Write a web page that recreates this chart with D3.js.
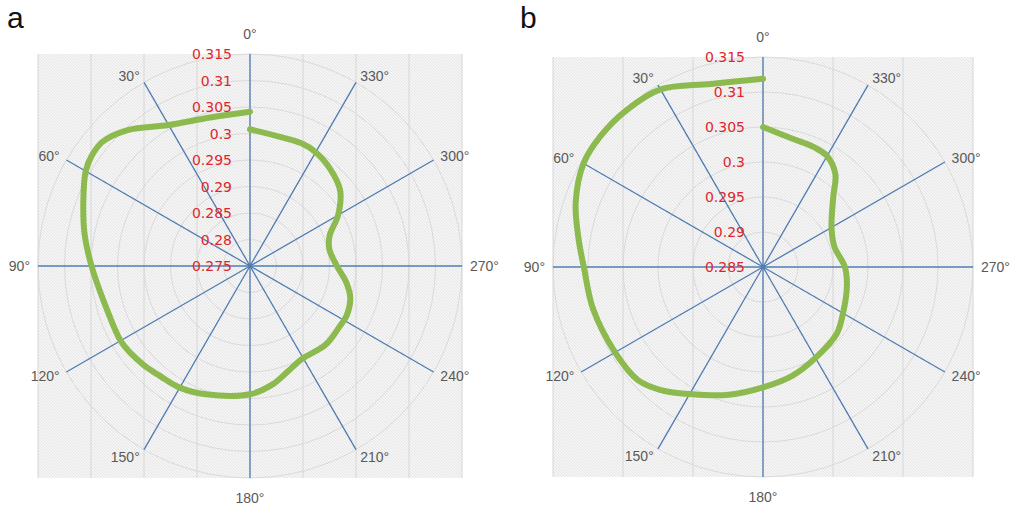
<!DOCTYPE html>
<html><head><meta charset="utf-8">
<script src="https://cdn.jsdelivr.net/npm/d3@7"></script>
<style>body{margin:0;background:#fff}svg{display:block}</style>
</head><body>
<svg id="chart" width="1022" height="508"></svg>
<script>
// ---- data ----
const angleLabels = ["0°","30°","60°","90°","120°","150°","180°","210°","240°","270°","300°","330°"];
const spokeAngles = [0,30,60,90,120,150,180,210,240,270,300,330];

const ticksA = [0.275,0.28,0.285,0.29,0.295,0.3,0.305,0.31,0.315];
const ticksB = [0.285,0.29,0.295,0.3,0.305,0.31,0.315];

const anglesA = [0,15,30,42,50,55,60,68,79,90,105,120,126,133,141,150,161,180,191,200,209,224,236,243,252,260,270,282,291,300,310,320,330,337,346,360];
const valuesA = [0.3041,0.3040,0.3057,0.3095,0.3114,0.3114,0.3108,0.3089,0.3068,0.3049,0.3033,0.3032,0.3029,0.3024,0.3018,0.3015,0.3006,0.2992,0.2977,0.2961,0.2951,0.2956,0.2954,0.2955,0.2949,0.2935,0.2914,0.2903,0.2911,0.2942,0.2972,0.2987,0.2998,0.3001,0.3000,0.3008];

const anglesB = [0,16,30,41,51,60,71,81,90,104,120,132,140,151,165,180,195,210,228,240,257,270,286,300,315,322,330,337,347,360];
const valuesB = [0.3119,0.3122,0.3143,0.3147,0.3148,0.3146,0.3133,0.3117,0.3106,0.3100,0.3094,0.3091,0.3079,0.3058,0.3039,0.3022,0.3011,0.3000,0.2992,0.2982,0.2973,0.2967,0.2956,0.2963,0.2992,0.3018,0.3033,0.3036,0.3038,0.3050];

const svg = d3.select("#chart");
const defs = svg.append("defs");
const pat = defs.append("pattern").attr("id","hatch").attr("patternUnits","userSpaceOnUse")
  .attr("width",3).attr("height",3);
pat.append("rect").attr("width",3).attr("height",3).attr("fill","#f5f5f5");
pat.append("path").attr("d","M0,0 L3,3 M-1,2 L1,4 M2,-1 L4,1").attr("stroke","#e1e1e1").attr("stroke-width",0.8);

const fmt = d3.format("~g");

function panel(opts){
  const {cx, cy, R, ticks, angles, values, letter, lx} = opts;
  const g = svg.append("g").attr("transform",`translate(${cx},${cy})`);
  const r = d3.scaleLinear().domain([ticks[0], ticks[ticks.length-1]]).range([0, R]);
  const step = r(ticks[2]) - r(ticks[0]);

  // background square
  g.append("rect").attr("x",-R).attr("y",-R).attr("width",2*R).attr("height",2*R).attr("fill","url(#hatch)");
  // vertical grid lines
  const nv = Math.round(R/step);
  const vx = d3.range(-nv, nv+1).map(i=>i*step);
  g.selectAll(".vg").data(vx).join("line")
    .attr("x1",d=>d).attr("x2",d=>d).attr("y1",-R).attr("y2",R)
    .attr("stroke","#d6d6d6").attr("stroke-width",1);
  // rings
  g.selectAll(".ring").data(ticks.slice(1)).join("circle")
    .attr("r",d=>r(d)).attr("fill","none").attr("stroke","#dadada").attr("stroke-width",1);
  // spokes
  g.selectAll(".spoke").data(spokeAngles).join("line")
    .attr("x1",0).attr("y1",0)
    .attr("x2",d=>-R*Math.sin(d*Math.PI/180))
    .attr("y2",d=>-R*Math.cos(d*Math.PI/180))
    .attr("stroke","#4f7cb3").attr("stroke-width",1.3);
  g.append("circle").attr("r",2.2).attr("fill","#4f7cb3");

  // curve
  const line = d3.lineRadial()
    .angle(d=>-d[0]*Math.PI/180)
    .radius(d=>r(d[1]))
    .curve(d3.curveCatmullRom.alpha(0.5));
  g.append("path").datum(angles.map((a,i)=>[a, values[i]]))
    .attr("d",line).attr("fill","none").attr("stroke","#8dba4f")
    .attr("stroke-width",6).attr("stroke-linecap","round").attr("stroke-linejoin","round");

  // radial labels
  g.selectAll(".rl").data(ticks).join("text")
    .attr("x",-18).attr("y",d=>-r(d)).attr("dy","0.36em")
    .attr("text-anchor","end").attr("fill","#e0262c")
    .attr("font-family","DejaVu Sans, sans-serif").attr("font-size",14)
    .text(d=>fmt(d));

  // angle labels
  g.selectAll(".al").data(spokeAngles).join("text")
    .each(function(d,i){
      const t = d*Math.PI/180, s = Math.sin(t), c = Math.cos(t);
      const ex = -R*s, ey = -R*c;
      const sel = d3.select(this);
      if (Math.abs(s) < 1e-6){
        sel.attr("x",ex).attr("y",ey + (c>0?-20:20)).attr("text-anchor","middle");
      } else {
        const gap = 3 + 5*s*s;
        sel.attr("x", ex + (s>0?-gap:gap)).attr("y", ey - 8*c)
           .attr("text-anchor", s>0 ? "end" : "start");
      }
      sel.text(angleLabels[i]);
    })
    .attr("dy","0.36em").attr("fill","#595959")
    .attr("font-family","Liberation Sans, Arial, sans-serif").attr("font-size",14);

  svg.append("text").attr("x",lx).attr("y",28).text(letter)
    .attr("font-family","Liberation Sans, Arial, sans-serif").attr("font-size",30).attr("fill","#111");
}

panel({cx:250, cy:266, R:212, ticks:ticksA, angles:anglesA, values:valuesA, letter:"a", lx:7});
panel({cx:763, cy:267, R:210, ticks:ticksB, angles:anglesB, values:valuesB, letter:"b", lx:520});
</script>
</body></html>
